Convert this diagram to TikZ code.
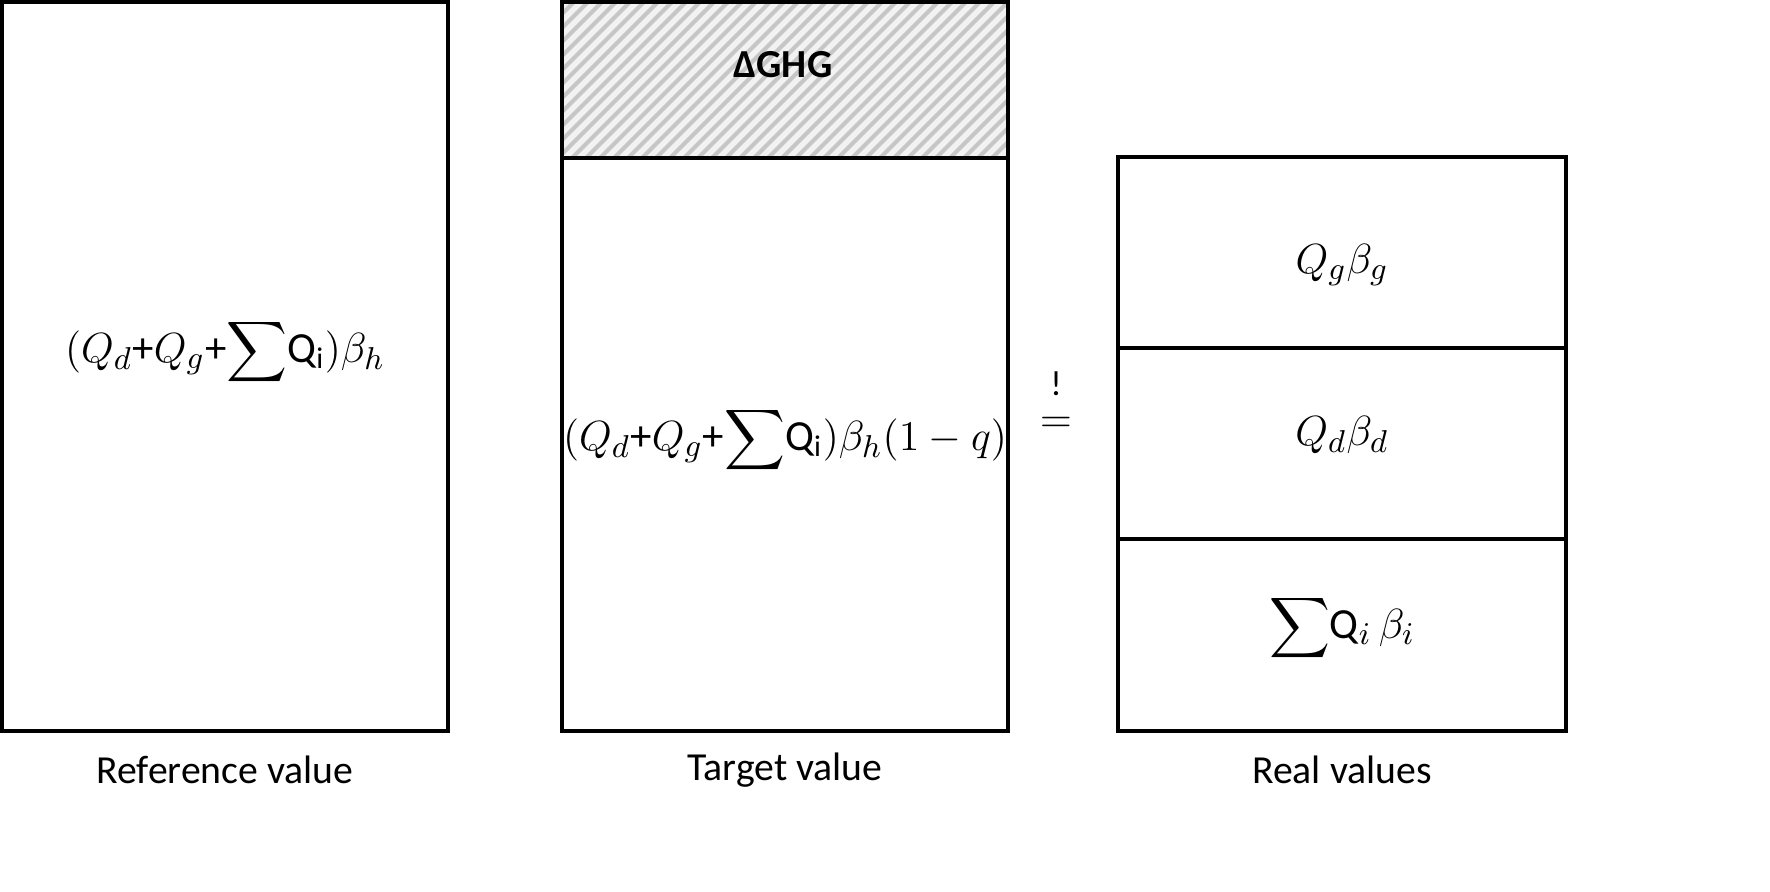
\documentclass[tikz,border=0pt]{standalone}
\usepackage{fontspec}
\setmainfont{Carlito}
\usepackage{amsmath}
\begin{document}
\begin{tikzpicture}[x=0.01cm,y=-0.01cm,
  box/.style={draw,line width=1.1pt},
  lbl/.style={font=\fontsize{11.3}{13}\selectfont},
  frm/.style={font=\fontsize{12.2}{14}\selectfont}]
\useasboundingbox (0,0) rectangle (1770,891);
\fill[gray!10] (562,2) rectangle (1008,158);
\begin{scope}
\clip (562,2) rectangle (1008,158);
\foreach \i in {0,14,...,630} {
  \draw[gray!45,line width=1.2pt] (562+\i-160,160) -- (562+\i,0);
}
\end{scope}
\draw[box] (2,2) rectangle (448,731);
\draw[box] (562,2) rectangle (1008,158);
\draw[box] (562,158) rectangle (1008,731);
\draw[box] (1118,157) rectangle (1566,731);
\draw[box] (1118,348) -- (1566,348);
\draw[box] (1118,539) -- (1566,539);
\node[frm] (f1) at (225,352) {$(Q_d$+$Q_g$+$\displaystyle\sum$Q$_{\mathrm i})\beta_h$};
\node[frm] (f2) at (785,440) {$(Q_d$+$Q_g$+$\displaystyle\sum$Q$_{\mathrm i})\beta_h(1-q)$};
\node[font=\bfseries\fontsize{11.3}{13}\selectfont] (d) at (783,65) {ΔGHG};
\node[frm] (r1) at (1342,265) {$Q_g\beta_g$};
\node[frm] (r2) at (1342,435) {$Q_d\beta_d$};
\node[frm] (r3) at (1342,628) {$\displaystyle\sum$Q$_i\,\beta_i$};
\node[font=\fontsize{10}{12}\selectfont,inner sep=0pt] (ex) at (1056,384) {!};
\node[frm,inner sep=0pt] (eq) at (1056,425) {$=$};
\node[lbl] (l1) at (225,770) {Reference value};
\node[lbl] (l2) at (785,770) {Target value};
\node[lbl] (l3) at (1342,770) {Real values};
\end{tikzpicture}
\end{document}
